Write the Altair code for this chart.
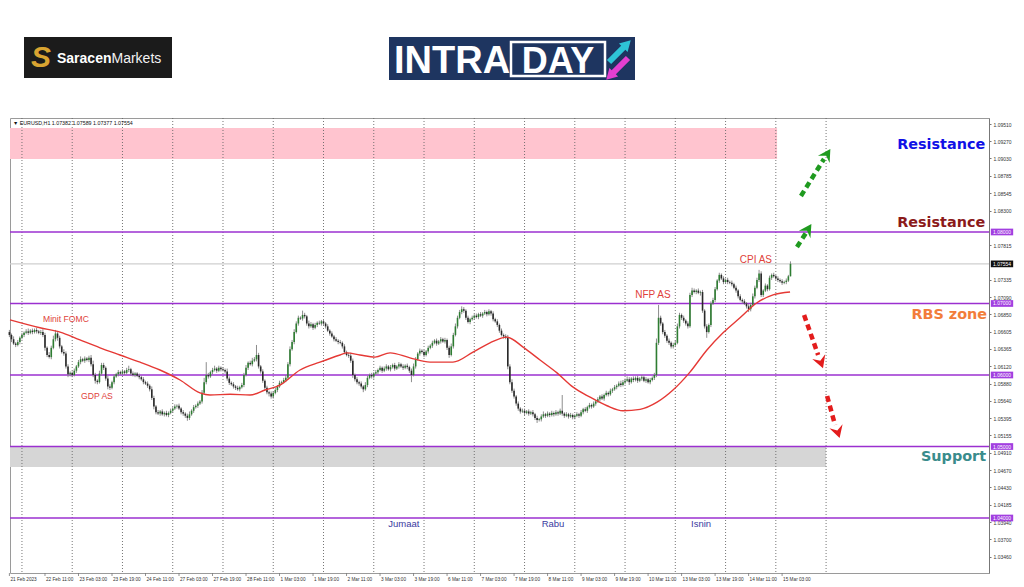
import altair as alt
import pandas as pd

# ---------------- data ----------------
# hourly EURUSD closes, bar 0 = 21 Feb 18:00 ... bar 373 = 15 Mar 07:00
CLOSE = [
    1.0656, 1.0650, 1.0644, 1.0642, 1.0646, 1.0652,
    1.0656, 1.0659, 1.0661, 1.0659, 1.0662, 1.0660, 1.0663, 1.0661, 1.0659, 1.0660, 1.0656, 1.0638, 1.0628, 1.0625, 1.0638, 1.0650, 1.0658, 1.0652, 1.0640, 1.0632, 1.0630, 1.0612, 1.0601, 1.0603,
    1.0600, 1.0606, 1.0612, 1.0618, 1.0622, 1.0620, 1.0623, 1.0621, 1.0624, 1.0615, 1.0600, 1.0592, 1.0590, 1.0602, 1.0614, 1.0610, 1.0595, 1.0584, 1.0582, 1.0590, 1.0598, 1.0601, 1.0604, 1.0602,
    1.0605, 1.0603, 1.0607, 1.0608, 1.0602, 1.0600, 1.0602, 1.0599, 1.0597, 1.0594, 1.0590, 1.0588, 1.0585, 1.0580, 1.0568, 1.0556, 1.0548, 1.0546, 1.0549, 1.0545, 1.0547, 1.0544, 1.0547, 1.0550,
    1.0553, 1.0556, 1.0557, 1.0553, 1.0548, 1.0546, 1.0543, 1.0540, 1.0545, 1.0550, 1.0555, 1.0557, 1.0560, 1.0563, 1.0575, 1.0590, 1.0600, 1.0598, 1.0604, 1.0607, 1.0609, 1.0606, 1.0610, 1.0608,
    1.0607, 1.0605, 1.0595, 1.0589, 1.0587, 1.0584, 1.0582, 1.0580, 1.0583, 1.0586, 1.0600, 1.0610, 1.0617, 1.0615, 1.0620, 1.0622, 1.0628, 1.0612, 1.0605, 1.0592, 1.0582, 1.0576, 1.0574, 1.0570,
    1.0575, 1.0579, 1.0584, 1.0589, 1.0590, 1.0593, 1.0596, 1.0615, 1.0636, 1.0646, 1.0660, 1.0672, 1.0680, 1.0679, 1.0684, 1.0682, 1.0672, 1.0668, 1.0671, 1.0666, 1.0670, 1.0673, 1.0672, 1.0675,
    1.0672, 1.0668, 1.0662, 1.0658, 1.0654, 1.0650, 1.0648, 1.0646, 1.0645, 1.0640, 1.0632, 1.0628, 1.0627, 1.0620, 1.0600, 1.0594, 1.0590, 1.0588, 1.0584, 1.0580, 1.0586, 1.0596, 1.0600, 1.0598,
    1.0602, 1.0604, 1.0607, 1.0610, 1.0606, 1.0609, 1.0612, 1.0608, 1.0611, 1.0614, 1.0609, 1.0612, 1.0615, 1.0612, 1.0610, 1.0613, 1.0611, 1.0606, 1.0600, 1.0612, 1.0622, 1.0630, 1.0634, 1.0632,
    1.0628, 1.0633, 1.0638, 1.0641, 1.0645, 1.0648, 1.0644, 1.0647, 1.0650, 1.0647, 1.0649, 1.0638, 1.0628, 1.0640, 1.0656, 1.0668, 1.0680, 1.0688, 1.0692, 1.0690, 1.0680, 1.0674, 1.0678, 1.0680,
    1.0683, 1.0681, 1.0685, 1.0683, 1.0686, 1.0688, 1.0685, 1.0689, 1.0686, 1.0678, 1.0675, 1.0670, 1.0662, 1.0656, 1.0654, 1.0652, 1.0612, 1.0590, 1.0578, 1.0570, 1.0560, 1.0553, 1.0549, 1.0550,
    1.0547, 1.0549, 1.0546, 1.0548, 1.0545, 1.0540, 1.0537, 1.0538, 1.0542, 1.0545, 1.0543, 1.0546, 1.0544, 1.0547, 1.0545, 1.0548, 1.0546, 1.0550, 1.0546, 1.0543, 1.0545, 1.0542, 1.0544, 1.0541,
    1.0543, 1.0545, 1.0543, 1.0548, 1.0552, 1.0550, 1.0555, 1.0558, 1.0556, 1.0560, 1.0563, 1.0566, 1.0570, 1.0567, 1.0572, 1.0575, 1.0573, 1.0578, 1.0580, 1.0583, 1.0585, 1.0588, 1.0586, 1.0590,
    1.0592, 1.0594, 1.0590, 1.0595, 1.0593, 1.0596, 1.0592, 1.0595, 1.0597, 1.0592, 1.0594, 1.0590, 1.0593, 1.0596, 1.0600, 1.0645, 1.0680, 1.0672, 1.0660, 1.0655, 1.0648, 1.0645, 1.0640, 1.0642,
    1.0645, 1.0668, 1.0684, 1.0680, 1.0676, 1.0672, 1.0668, 1.0712, 1.0718, 1.0716, 1.0718, 1.0715, 1.0716, 1.0690, 1.0668, 1.0660, 1.0670, 1.0700, 1.0705, 1.0720, 1.0732, 1.0740, 1.0735, 1.0730,
    1.0733, 1.0730, 1.0729, 1.0727, 1.0722, 1.0718, 1.0710, 1.0705, 1.0703, 1.0700, 1.0696, 1.0692, 1.0698, 1.0710, 1.0722, 1.0733, 1.0742, 1.0712, 1.0718, 1.0725, 1.0720, 1.0736, 1.0740, 1.0738,
    1.0735, 1.0733, 1.0731, 1.0729, 1.0730, 1.0732, 1.0738, 1.07554,
]
FIRST_OPEN = 1.0660
# upper / lower wick lengths in pips
WICK_UP = [
    3, 2, 4, 2, 3, 2,
    3, 2, 3, 4, 2, 3, 2, 3, 2, 3, 4, 3, 2, 4, 3, 5, 5, 2, 3, 2, 4, 3, 3, 2,
    2, 3, 2, 3, 4, 2, 3, 2, 3, 4, 5, 3, 2, 4, 3, 3, 2, 4, 3, 2, 3, 2, 3, 2,
    3, 2, 3, 5, 2, 3, 2, 2, 3, 2, 3, 2, 3, 2, 4, 3, 2, 3, 2, 3, 2, 3, 2, 3,
    2, 3, 2, 3, 2, 3, 2, 3, 4, 2, 3, 2, 3, 2, 4, 6, 18, 3, 2, 3, 4, 2, 3, 2,
    3, 2, 4, 3, 2, 3, 2, 3, 2, 3, 3, 4, 2, 3, 4, 3, 14, 3, 2, 3, 2, 3, 2, 3,
    2, 3, 2, 3, 2, 3, 4, 3, 4, 3, 4, 3, 3, 2, 6, 3, 2, 4, 3, 2, 3, 2, 3, 2,
    3, 2, 3, 2, 3, 2, 3, 2, 3, 2, 3, 2, 3, 4, 3, 2, 3, 2, 3, 2, 4, 3, 2, 3,
    2, 3, 2, 3, 2, 3, 3, 2, 3, 2, 3, 2, 3, 2, 3, 2, 3, 2, 3, 4, 3, 2, 3, 2,
    3, 2, 3, 2, 3, 2, 3, 2, 3, 2, 3, 2, 3, 4, 3, 4, 3, 3, 4, 3, 2, 3, 2, 3,
    2, 3, 2, 3, 2, 3, 2, 3, 2, 3, 2, 3, 2, 3, 2, 3, 4, 3, 4, 3, 2, 3, 2, 3,
    3, 2, 3, 2, 3, 2, 3, 2, 3, 4, 2, 3, 2, 3, 2, 3, 2, 3, 22, 2, 3, 2, 3, 2,
    2, 3, 2, 3, 2, 3, 2, 3, 2, 3, 2, 3, 2, 3, 2, 3, 2, 3, 2, 3, 2, 3, 4, 3,
    3, 4, 3, 2, 3, 2, 3, 2, 3, 2, 3, 2, 3, 2, 3, 6, 18, 3, 2, 3, 2, 3, 2, 3,
    3, 4, 3, 2, 3, 2, 3, 3, 4, 3, 2, 3, 2, 3, 2, 3, 2, 3, 3, 3, 2, 3, 2, 3,
    2, 3, 2, 3, 2, 3, 2, 3, 2, 3, 2, 3, 3, 4, 3, 3, 5, 3, 2, 3, 2, 3, 2, 3,
    2, 3, 2, 3, 2, 3, 2, 3.5,
]
WICK_DN = [
    3, 4, 2, 3, 2, 3,
    2, 3, 2, 3, 2, 3, 2, 3, 2, 3, 3, 4, 3, 2, 3, 2, 3, 4, 3, 2, 3, 3, 4, 3,
    3, 2, 3, 2, 3, 2, 3, 2, 3, 3, 3, 4, 3, 2, 3, 3, 3, 4, 3, 2, 3, 2, 3, 2,
    2, 3, 2, 3, 3, 2, 3, 2, 3, 2, 3, 2, 3, 3, 3, 4, 3, 2, 3, 2, 3, 2, 3, 2,
    3, 2, 3, 2, 3, 3, 3, 4, 3, 2, 3, 2, 3, 2, 3, 2, 3, 3, 2, 3, 2, 3, 2, 3,
    2, 3, 3, 3, 2, 3, 3, 2, 3, 2, 3, 2, 3, 2, 3, 2, 3, 3, 3, 3, 3, 3, 4, 3,
    3, 2, 3, 2, 3, 2, 3, 2, 3, 2, 3, 2, 3, 2, 3, 3, 3, 3, 2, 3, 2, 3, 2, 3,
    2, 3, 2, 3, 2, 3, 2, 3, 2, 3, 3, 2, 3, 3, 4, 3, 3, 3, 3, 4, 2, 3, 2, 3,
    3, 2, 3, 2, 3, 2, 3, 2, 3, 2, 3, 2, 3, 2, 3, 2, 3, 3, 10, 2, 3, 2, 3, 2,
    3, 2, 3, 2, 3, 2, 3, 2, 3, 2, 3, 3, 4, 2, 3, 2, 3, 2, 3, 3, 3, 2, 3, 2,
    3, 2, 3, 2, 3, 2, 3, 2, 3, 3, 2, 3, 3, 2, 3, 2, 4, 3, 3, 3, 3, 3, 3, 2,
    3, 2, 3, 2, 3, 3, 4, 2, 3, 2, 3, 2, 3, 2, 3, 2, 3, 2, 3, 3, 2, 3, 2, 3,
    3, 2, 3, 2, 3, 2, 3, 2, 3, 2, 3, 2, 3, 2, 3, 2, 3, 2, 3, 2, 3, 2, 3, 2,
    3, 2, 4, 2, 3, 2, 3, 2, 3, 2, 3, 2, 3, 2, 3, 3, 3, 3, 3, 3, 3, 3, 3, 3,
    3, 2, 3, 3, 3, 3, 3, 2, 3, 2, 3, 2, 4, 3, 3, 8, 2, 3, 2, 3, 2, 3, 2, 3,
    2, 3, 2, 3, 2, 3, 3, 2, 3, 2, 3, 4, 3, 2, 3, 2, 3, 3, 3, 2, 3, 2, 3, 2,
    2, 3, 2, 3, 2, 3, 2, 0,
]
PIP = 0.0001

# moving average (red line), sampled: bar index / price
MA_X = [0.3, 14.6, 24.2, 33.7, 43.3, 52.8, 62.4, 71.9, 81.5, 91.0, 95.8, 105.4, 114.9, 122.1, 129.2,
        138.8, 148.3, 157.9, 161.2, 167.4, 174.6, 181.8, 191.3, 200.9, 211.8, 221.4, 229.5, 237.6,
        245.3, 253.4, 261.5, 269.2, 277.3, 285.4, 293.0, 301.2, 309.3, 316.9, 325.0, 333.1, 340.8,
        348.9, 357.0, 364.7, 372.8]
MA_Y = [1.0677, 1.0666, 1.0660, 1.0649, 1.0638, 1.0628, 1.0618, 1.0607, 1.0593, 1.0575, 1.0572, 1.0573,
        1.0572, 1.0579, 1.0586, 1.0607, 1.0618, 1.0628, 1.0631, 1.0628, 1.0625, 1.0631, 1.0624, 1.0618,
        1.0618, 1.0632, 1.0645, 1.0653, 1.0639, 1.0621, 1.0603, 1.0583, 1.0569, 1.0557, 1.0550, 1.0552,
        1.0562, 1.0579, 1.0604, 1.0635, 1.0659, 1.0680, 1.0701, 1.0712, 1.0716]

LEVELS = [1.08, 1.07, 1.06, 1.05, 1.04]
LEVEL_LABELS = ["1.08000", "1.07000", "1.06000", "1.05000", "1.04000"]
CURRENT = 1.07554
CURRENT_LABEL = "1.07554"

DAY_STARTS = [6, 30, 54, 78, 102, 126, 150, 174, 198, 222, 246, 270, 294, 318, 342, 366, 390]

X_TICK_POS = [0, 17, 33, 49, 65, 81, 97, 113, 129, 145, 161, 177, 193, 209, 225, 241, 257, 273,
              289, 305, 321, 337, 353, 369]
X_TICK_LABELS = ["21 Feb 2023", "22 Feb 11:00", "23 Feb 03:00", "23 Feb 19:00", "24 Feb 11:00",
                 "27 Feb 03:00", "27 Feb 19:00", "28 Feb 11:00", "1 Mar 03:00", "1 Mar 19:00",
                 "2 Mar 11:00", "3 Mar 03:00", "3 Mar 19:00", "6 Mar 11:00", "7 Mar 03:00",
                 "7 Mar 19:00", "8 Mar 11:00", "9 Mar 03:00", "9 Mar 19:00", "10 Mar 11:00",
                 "13 Mar 03:00", "13 Mar 19:00", "14 Mar 11:00", "15 Mar 03:00"]

# right price scale (labels hidden under the level boxes are left out)
Y_TICKS = [1.09510, 1.09270, 1.09030, 1.08785, 1.08545, 1.08300, 1.07815,
           1.07335, 1.07090, 1.06850, 1.06605, 1.06365, 1.06120, 1.05880, 1.05640, 1.05395,
           1.05155, 1.04910, 1.04670, 1.04430, 1.04185, 1.03940, 1.03700, 1.03460, 1.03215]

ZONE_X_END = [366.6, 390]
ZONE_TOP = [1.09455, 1.05000]
ZONE_BOTTOM = [1.09021, 1.04713]
ZONE_COLOR = ["#ffc4cf", "#d6d6d6"]

NOTE_TEXT = ["Minit FOMC", "GDP AS", "NFP AS", "CPI AS"]
NOTE_X = [27.0, 41.8, 307.3, 356.5]
NOTE_Y = [1.0679, 1.0571, 1.0712, 1.0761]
NOTE_SIZE = [8.6, 8.6, 10, 10]

DAYNAME_TEXT = ["Jumaat", "Rabu", "Isnin"]
DAYNAME_X = [188.4, 259.6, 330.3]
DAYNAME_Y = [1.0392, 1.0392, 1.0392]

BIG_TEXT = ["Resistance", "Resistance", "RBS zone", "Support"]
BIG_X = [466.0, 466.0, 466.9, 466.4]
BIG_Y = [1.09217, 1.08126, 1.06839, 1.04853]
BIG_COLOR = ["#1010e6", "#8b1a1a", "#f27d3a", "#3a8c8c"]

ARROW_X1 = [376.1, 378.0, 379.5, 390.5]
ARROW_Y1 = [1.07790, 1.08503, 1.06839, 1.05706]
ARROW_X2 = [380.4, 389.0, 386.2, 394.3]
ARROW_Y2 = [1.07986, 1.09021, 1.06280, 1.05301]
HEAD_X = [381.2, 390.3, 387.4, 395.5]
HEAD_Y = [1.08030, 1.09080, 1.06185, 1.05210]
HEAD_ANGLE = [33, 32, 160, 163]
ARROW_COLOR = ["#1f9a1f", "#1f9a1f", "#e31c1c", "#e31c1c"]

# ---------------- layout ----------------
W, H = 979, 455
X_MIN, X_MAX = 0.29, 467.8
Y_MIN, Y_MAX = 1.03231, 1.09594
FONT = "Liberation Sans"

xs = alt.Scale(domain=[X_MIN, X_MAX], nice=False, zero=False)
ys = alt.Scale(domain=[Y_MIN, Y_MAX], nice=False, zero=False)
YAX = alt.Axis(orient="right", values=Y_TICKS, format=".5f", title=None, grid=False,
               labelFontSize=5, labelColor="#333333", labelFont=FONT, labelPadding=2,
               tickSize=2, tickColor="#777777", domainColor="#777777",
               labelFlush=False, labelOverlap=False)


def X(f):
    return alt.X(f + ":Q", scale=xs, axis=None)


def Y(f):
    return alt.Y(f + ":Q", scale=ys, axis=YAX)


opens = [FIRST_OPEN] + CLOSE[:-1]
candles = pd.DataFrame({
    "i": list(range(len(CLOSE))),
    "o": opens,
    "c": CLOSE,
    "h": [max(o, c) + u * PIP for o, c, u in zip(opens, CLOSE, WICK_UP)],
    "l": [min(o, c) - d * PIP for o, c, d in zip(opens, CLOSE, WICK_DN)],
})

zones = pd.DataFrame({"x0": [X_MIN, X_MIN], "x1": ZONE_X_END, "t": ZONE_TOP,
                      "b": ZONE_BOTTOM, "col": ZONE_COLOR})
zone_layer = alt.Chart(zones).mark_rect().encode(
    x=X("x0"), x2="x1", y=Y("t"), y2="b", color=alt.Color("col:N", scale=None))

days = pd.DataFrame({"d": DAY_STARTS})
day_layer = alt.Chart(days).mark_rule(color="#666666", strokeWidth=0.9, strokeDash=[1, 2]).encode(x=X("d"))

cur = pd.DataFrame({"p": [CURRENT], "lab": [CURRENT_LABEL]})
cur_layer = alt.Chart(cur).mark_rule(color="#cfcfcf", strokeWidth=1.2).encode(y=Y("p"))

lev = pd.DataFrame({"p": LEVELS, "lab": LEVEL_LABELS})
lev_layer = alt.Chart(lev).mark_rule(color="#9b30d0", strokeWidth=1.3).encode(y=Y("p"))

cbase = alt.Chart(candles)
wick_layer = cbase.mark_rule(color="#808080", strokeWidth=0.9).encode(x=X("i"), y=Y("h"), y2="l")
body_layer = cbase.mark_rule(strokeWidth=1.6).encode(
    x=X("i"), y=Y("o"), y2="c",
    color=alt.condition("datum.c > datum.o", alt.value("#2e7d32"), alt.value("#2a2a2a")))

ma = pd.DataFrame({"x": MA_X, "y": MA_Y})
ma_layer = alt.Chart(ma).mark_line(color="#e53935", strokeWidth=1.4, interpolate="monotone").encode(
    x=X("x"), y=Y("y"))

notes = pd.DataFrame({"t": NOTE_TEXT, "x": NOTE_X, "y": NOTE_Y, "s": NOTE_SIZE})
note_layer = alt.Chart(notes).mark_text(color="#e0413a", font=FONT, align="center", baseline="middle").encode(
    x=X("x"), y=Y("y"), text="t:N", size=alt.Size("s:Q", scale=None))

dn = pd.DataFrame({"t": DAYNAME_TEXT, "x": DAYNAME_X, "y": DAYNAME_Y})
dn_layer = alt.Chart(dn).mark_text(color="#3a3aa0", font=FONT, fontSize=9.5, align="center",
                                   baseline="middle").encode(x=X("x"), y=Y("y"), text="t:N")

big = pd.DataFrame({"t": BIG_TEXT, "x": BIG_X, "y": BIG_Y, "col": BIG_COLOR})
big_layer = alt.Chart(big).mark_text(font="DejaVu Sans", fontWeight="bold", fontSize=14.4, align="right",
                                     baseline="middle").encode(
    x=X("x"), y=Y("y"), text="t:N", color=alt.Color("col:N", scale=None))

arrows = pd.DataFrame({"x1": ARROW_X1, "y1": ARROW_Y1, "x2": ARROW_X2, "y2": ARROW_Y2,
                       "hx": HEAD_X, "hy": HEAD_Y, "a": HEAD_ANGLE, "col": ARROW_COLOR})
arrow_layer = alt.Chart(arrows).mark_rule(strokeWidth=4.5, strokeDash=[6, 4]).encode(
    x=X("x1"), y=Y("y1"), x2="x2", y2="y2", color=alt.Color("col:N", scale=None))
head_layer = alt.Chart(arrows).mark_point(
    shape="M0,-1L1,0.8L0,0.15L-1,0.8Z", filled=True, size=190, opacity=1).encode(
    x=X("hx"), y=Y("hy"), angle=alt.Angle("a:Q", scale=None), color=alt.Color("col:N", scale=None))

BOX = "M-1,-0.3L1,-0.3L1,0.3L-1,0.3Z"
lev_box = alt.Chart(lev).mark_point(shape=BOX, filled=True, size=500, opacity=1, color="#a23fe0").encode(
    x=alt.value(W + 13), y=Y("p"))
lev_txt = alt.Chart(lev).mark_text(font=FONT, fontSize=5, color="white", align="center",
                                   baseline="middle").encode(x=alt.value(W + 13), y=Y("p"), text="lab:N")
cur_box = alt.Chart(cur).mark_point(shape=BOX, filled=True, size=500, opacity=1, color="#111111").encode(
    x=alt.value(W + 13), y=Y("p"))
cur_txt = alt.Chart(cur).mark_text(font=FONT, fontSize=5, color="white", align="center",
                                   baseline="middle").encode(x=alt.value(W + 13), y=Y("p"), text="lab:N")

xt = pd.DataFrame({"x": X_TICK_POS, "t": X_TICK_LABELS})
xtick_layer = alt.Chart(xt).mark_rule(color="#777777", strokeWidth=0.8).encode(
    x=X("x"), y=alt.value(H), y2=alt.value(H + 3))
xlab_layer = alt.Chart(xt).mark_text(font=FONT, fontSize=4.7, color="#333333", align="left",
                                     baseline="middle", dx=1).encode(
    x=X("x"), y=alt.value(H + 6.5), text="t:N")

one = pd.DataFrame({"k": [0]})


def ptext(txt, x, y, **kw):
    return alt.Chart(one).mark_text(**kw).encode(x=alt.value(x), y=alt.value(y), text=alt.value(txt))


def prect(x0, x1, y0, y1, **kw):
    return alt.Chart(one).mark_rect(**kw).encode(
        x=alt.value(x0), x2=alt.value(x1), y=alt.value(y0), y2=alt.value(y1))


def pline(x0, y0, x1, y1, **kw):
    return alt.Chart(one).mark_rule(**kw).encode(
        x=alt.value(x0), y=alt.value(y0), x2=alt.value(x1), y2=alt.value(y1))


def phead(x, y, ang, **kw):
    return alt.Chart(one).mark_point(shape="triangle-up", filled=True, opacity=1, **kw).encode(
        x=alt.value(x), y=alt.value(y), angle=alt.value(ang))


header = ptext("\u25bc EURUSD,H1  1.07382 1.07589 1.07377 1.07554", 3, 4.5, font=FONT, fontSize=5.3,
               color="#111111", align="left", baseline="middle")

logo = [
    prect(14, 162, -81, -40, color="#1b1b1b"),
    ptext("S", 31, -60, font=FONT, fontSize=30, fontWeight="bold", fontStyle="italic",
          color="#d9a431", align="center", baseline="middle"),
    ptext("Saracen", 47, -55, font=FONT, fontSize=14, fontWeight="bold", color="white",
          align="left", baseline="alphabetic"),
    ptext("Markets", 101.5, -55, font=FONT, fontSize=14, color="#f2f2f2",
          align="left", baseline="alphabetic"),
    prect(379, 625, -81, -38, color="#1e3560"),
    ptext("INTRA", 384, -45, font=FONT, fontSize=38, fontWeight="bold", color="white",
          align="left", baseline="alphabetic"),
    prect(501, 595, -76, -42, fill="#1e3560", stroke="white", strokeWidth=2.5),
    ptext("DAY", 548, -45, font=FONT, fontSize=36, fontWeight="bold", color="white",
          align="center", baseline="alphabetic"),
    pline(599, -56, 614, -71, color="#2ec4d6", strokeWidth=6),
    phead(617, -74, 45, size=150, color="#2ec4d6"),
    pline(618, -60, 603, -45, color="#e33fd0", strokeWidth=6),
    phead(600, -42, 225, size=150, color="#e33fd0"),
]

chart = alt.layer(
    zone_layer, day_layer, cur_layer, lev_layer, wick_layer, body_layer, ma_layer,
    note_layer, dn_layer, big_layer, arrow_layer, head_layer,
    lev_box, lev_txt, cur_box, cur_txt, xtick_layer, xlab_layer, header, *logo
).properties(
    width=W, height=H, background="white",
    padding={"left": 2, "top": 110, "right": 27, "bottom": 10},
    autosize=alt.AutoSizeParams(type="none"),
).configure_view(stroke="#9a9a9a", strokeWidth=1)

chart.save("out.html", embed_options={"renderer": "svg", "actions": False})
